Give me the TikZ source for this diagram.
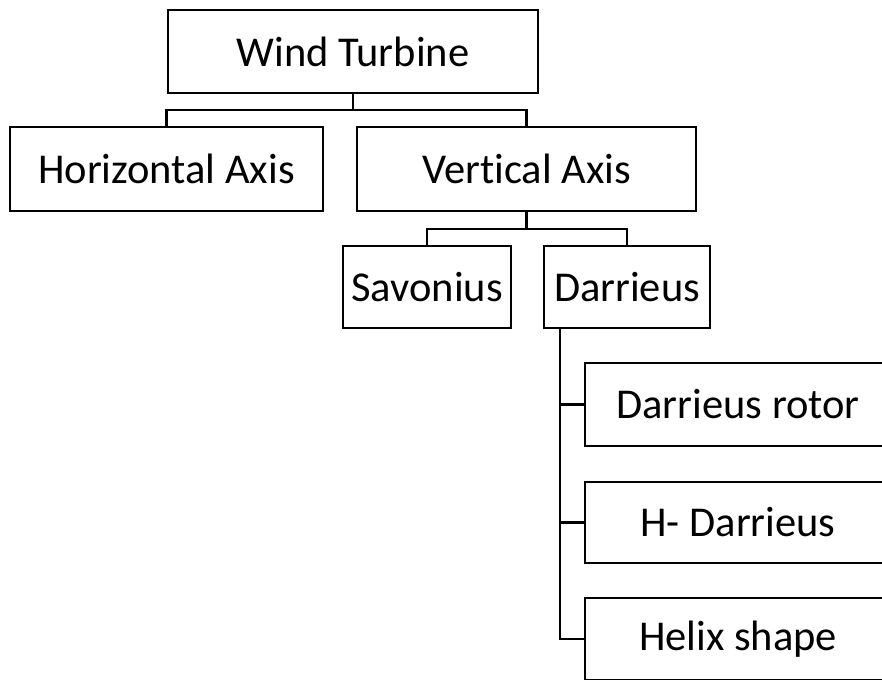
\documentclass[tikz,border=0pt]{standalone}
\usepackage{fontspec}
\setmainfont{Carlito}[Ligatures=NoCommon]
\begin{document}
\begin{tikzpicture}[x=1pt,y=-1pt,
  box/.style={draw, line width=2.7pt, rectangle, inner sep=0pt,
    font=\fontsize{42.5}{50}\selectfont},
  link/.style={line width=2.7pt}]
\useasboundingbox (0,0) rectangle (882,679);
\clip (0,0) rectangle (882,679);

% tree nodes
\node[box, minimum width=370pt, minimum height=83pt] (wt)  at (353,51.5) {Wind Turbine};
\node[box, minimum width=313pt, minimum height=84pt] (hor) at (166.5,169) {Horizontal Axis};
\node[box, minimum width=339pt, minimum height=84pt] (ver) at (526.5,169) {Vertical Axis};
\node[box, minimum width=168pt, minimum height=82pt] (sav) at (427,287) {Savonius};
\node[box, minimum width=166pt, minimum height=82pt] (dar) at (627,287) {Darrieus};
\node[box, minimum width=306pt, minimum height=83pt] (rot) at (738,404.5) {Darrieus rotor};
\node[box, minimum width=306pt, minimum height=81pt] (hd)  at (738,522.5) {H- Darrieus};
\node[box, minimum width=306pt, minimum height=82pt] (hel) at (738,639) {Helix shape};

% junction points
\coordinate (j1) at (353,110);
\coordinate (j2) at (526.5,229);
\coordinate (trunk) at (560,639);

% connectors
\draw[link] (wt.south) -- (j1);
\draw[link] (j1) -| (hor.north);
\draw[link] (j1) -| (ver.north);
\draw[link] (ver.south) -- (j2);
\draw[link] (j2) -| (sav.north);
\draw[link] (j2) -| (dar.north);
\draw[link] (dar.south -| trunk) |- (hel.west);
\draw[link] (trunk |- rot.west) -- (rot.west);
\draw[link] (trunk |- hd.west) -- (hd.west);
\end{tikzpicture}
\end{document}
